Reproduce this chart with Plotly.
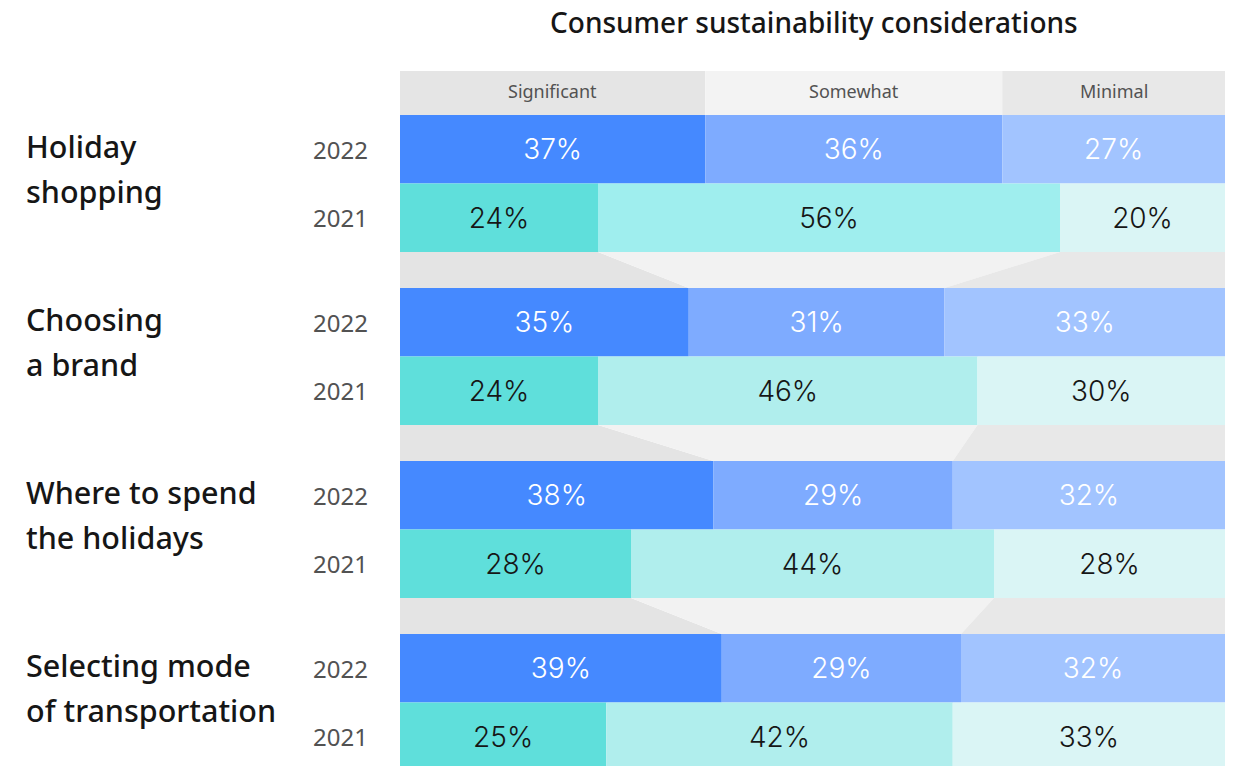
import plotly.graph_objects as go

# ---------------- data ----------------
category_lines = [["Holiday", "shopping"],
                  ["Choosing", "a brand"],
                  ["Where to spend", "the holidays"],
                  ["Selecting mode", "of transportation"]]
years = ["2022", "2021"]
levels = ["Significant", "Somewhat", "Minimal"]

significant_2022 = [37, 35, 38, 39]
somewhat_2022 = [36, 31, 29, 29]
minimal_2022 = [27, 33, 32, 32]

significant_2021 = [24, 24, 28, 25]
somewhat_2021 = [56, 46, 44, 42]
minimal_2021 = [20, 30, 28, 33]

title_text = "Consumer sustainability considerations"

# ---------------- styles ----------------
FONT = "Noto Sans"
PCT_FONT = "Inter"
col_2022 = ["#4589ff", "#7eabff", "#a2c4ff"]
col_2021_sig = "#5fdfdb"
col_2021_some = ["#9feeee", "#b0eeed", "#b0eeed", "#b0eeed"]
col_2021_min = "#daf5f5"
header_cols = ["#e5e5e5", "#f3f3f3", "#e8e8e8"]
gap_cols = ["#e4e4e4", "#f2f2f2", "#e8e8e8"]

HEADER_H = 44
BAR_H = 68.5
GAP_H = 36
PERIOD = 2 * BAR_H + GAP_H

n = len(category_lines)
group_top = [HEADER_H + g * PERIOD for g in range(n)]
y2022 = [t + BAR_H / 2 for t in group_top]
y2021 = [t + BAR_H * 1.5 for t in group_top]

fig = go.Figure()


def add_stack(yvals, series, colors, textcolor):
    base = [0] * n
    for i, vals in enumerate(series):
        last = i == len(series) - 1
        widths = [(100 - b) if last else v for v, b in zip(vals, base)]
        fig.add_trace(go.Bar(
            orientation="h", y=yvals, x=widths, base=list(base), width=BAR_H,
            marker=dict(color=colors[i], line=dict(width=0)),
            text=[f"{v}%" for v in vals], textposition="inside",
            insidetextanchor="middle",
            textfont=dict(family=PCT_FONT, size=28, color=textcolor, weight=300),
            hoverinfo="skip", showlegend=False, cliponaxis=True,
        ))
        base = [b + w for b, w in zip(base, widths)]


add_stack(y2022, [significant_2022, somewhat_2022, minimal_2022],
          col_2022, "white")
add_stack(y2021, [significant_2021, somewhat_2021, minimal_2021],
          [col_2021_sig, col_2021_some, col_2021_min], "#161616")

shapes = []
# header cells follow the first 2022 bar boundaries
hb = [0, significant_2022[0], significant_2022[0] + somewhat_2022[0], 100]
annotations = []
for i, lab in enumerate(levels):
    shapes.append(dict(type="rect", xref="x", yref="y", x0=hb[i], x1=hb[i + 1],
                       y0=0, y1=HEADER_H, fillcolor=header_cols[i],
                       line=dict(width=0), layer="below"))
    annotations.append(dict(xref="x", yref="y", x=(hb[i] + hb[i + 1]) / 2,
                            y=HEADER_H / 2 - 2, text=lab, showarrow=False,
                            font=dict(family=FONT, size=18, color="#525252")))

# connectors between groups
for g in range(n - 1):
    yt = group_top[g] + 2 * BAR_H
    yb = yt + GAP_H
    t1 = significant_2021[g]
    t2 = t1 + somewhat_2021[g]
    b1 = significant_2022[g + 1]
    b2 = b1 + somewhat_2022[g + 1]
    polys = [
        [(0, yt), (t1, yt), (b1, yb), (0, yb)],
        [(t1, yt), (t2, yt), (b2, yb), (b1, yb)],
        [(t2, yt), (100, yt), (100, yb), (b2, yb)],
    ]
    for k, poly in enumerate(polys):
        path = "M " + " L ".join(f"{x},{y}" for x, y in poly) + " Z"
        shapes.append(dict(type="path", xref="x", yref="y", path=path,
                           fillcolor=gap_cols[k], line=dict(width=0),
                           layer="below"))

# left labels
for g in range(n):
    for j, line in enumerate(category_lines[g]):
        annotations.append(dict(xref="paper", yref="y", x=-0.456,
                                y=y2022[g] - 3 + 45 * j, text=line,
                                showarrow=False, xanchor="left",
                                font=dict(family=FONT, size=30.5, color="#161616",
                                          weight=500)))
    for yv, yr in zip([y2022[g], y2021[g]], years):
        annotations.append(dict(xref="paper", yref="y", x=-0.0364, y=yv,
                                text=yr, showarrow=False, xanchor="right",
                                font=dict(family=FONT, size=24, color="#525252")))

annotations.append(dict(xref="paper", yref="paper", x=0.5018, y=1.0705,
                        text=title_text, showarrow=False, yanchor="middle",
                        font=dict(family=FONT, size=28, color="#161616",
                                  weight=500)))

fig.update_layout(
    width=1239, height=766,
    margin=dict(l=400, r=14, t=71, b=0),
    paper_bgcolor="white", plot_bgcolor="white",
    barmode="overlay",
    xaxis=dict(range=[0, 100], visible=False, fixedrange=True),
    yaxis=dict(range=[695, 0], visible=False, fixedrange=True),
    shapes=shapes, annotations=annotations,
    showlegend=False,
)

fig.write_html("out.html")
